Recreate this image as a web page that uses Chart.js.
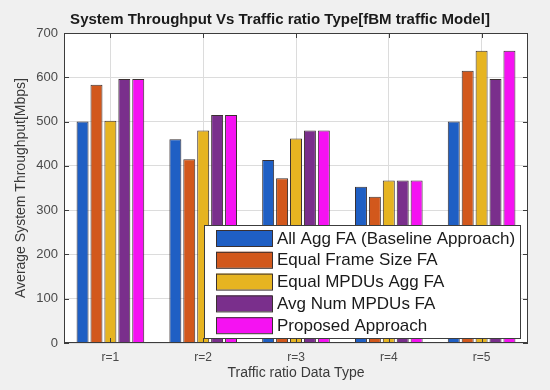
<!DOCTYPE html>
<html>
<head>
<meta charset="utf-8">
<script src="https://cdn.jsdelivr.net/npm/chart.js@4.4.1/dist/chart.umd.min.js"></script>
<style>
  html, body { margin: 0; padding: 0; background: #f0f0f0; }
  #wrap { width: 550px; height: 390px; }
</style>
</head>
<body>
<div id="wrap"><canvas id="myChart" width="550" height="390"></canvas></div>
<script>
// categorias y series
let categorias = ['r=1', 'r=2', 'r=3', 'r=4', 'r=5'];
let serieNombres = [
    'All Agg FA (Baseline Approach)',
    'Equal Frame Size FA',
    'Equal MPDUs Agg FA',
    'Avg Num MPDUs FA',
    'Proposed Approach'
];
let allAgg     = [500, 460, 413, 353, 500];
let equalFrame = [583, 415, 372, 330, 615];
let equalMpdu  = [502, 480, 462, 367, 660];
let avgNum     = [596, 515, 480, 367, 596];
let propuesto  = [596, 515, 480, 367, 660];
let yTicks = [0, 100, 200, 300, 400, 500, 600, 700];
let titulo = 'System Throughput Vs Traffic ratio Type[fBM traffic Model]';

let colores = [
    '#1f5fc4', // blue
    '#d2581c', // orange
    '#e6b421', // yellow
    '#7a2f8c', // purple
    '#f512f2'  // magenta
];

let series = [allAgg, equalFrame, equalMpdu, avgNum, propuesto];
let datasets = series.map(function (dato, index) {
    return {
        label: serieNombres[index],
        data: dato,
        backgroundColor: colores[index],
        borderColor: '#3a3030',
        borderWidth: 1,
        categoryPercentage: 0.75,
        barPercentage: 0.86
    };
});

/*** fondo, marco, titulo y leyenda ***/
let estiloMatlab = {
    id: 'estiloMatlab',
    beforeDraw: function (chart) {
        let ctx = chart.ctx;
        let a = chart.chartArea;
        ctx.save();
        ctx.fillStyle = '#f0f0f0';
        ctx.fillRect(0, 0, chart.width, chart.height);
        ctx.fillStyle = '#ffffff';
        ctx.fillRect(a.left, a.top, a.right - a.left, a.bottom - a.top);
        ctx.restore();
    },
    afterDraw: function (chart) {
        let ctx = chart.ctx;
        let a = chart.chartArea;
        let xs = chart.scales.x;
        let ys = chart.scales.y;
        ctx.save();
        // marco
        ctx.strokeStyle = '#3c3c3c';
        ctx.lineWidth = 1;
        ctx.strokeRect(a.left + 0.5, a.top + 0.5, a.right - a.left - 1, a.bottom - a.top - 1);
        // ticks hacia adentro
        ctx.beginPath();
        for (let i = 0; i < xs.ticks.length; i++) {
            let px = Math.round(xs.getPixelForTick(i)) + 0.5;
            ctx.moveTo(px, a.bottom); ctx.lineTo(px, a.bottom - 5);
            ctx.moveTo(px, a.top); ctx.lineTo(px, a.top + 5);
        }
        for (let i = 0; i < ys.ticks.length; i++) {
            let py = Math.round(ys.getPixelForTick(i)) + 0.5;
            ctx.moveTo(a.left, py); ctx.lineTo(a.left + 5, py);
            ctx.moveTo(a.right, py); ctx.lineTo(a.right - 5, py);
        }
        ctx.stroke();
        // titulo
        ctx.fillStyle = '#1a1a1a';
        ctx.font = 'bold 15px "Liberation Sans", Arial, sans-serif';
        ctx.textAlign = 'center';
        ctx.textBaseline = 'middle';
        ctx.fillText(titulo, 280, 20);
        // leyenda
        let bx = a.right - 324, by = a.bottom - 118, bw = 316, bh = 113;
        ctx.fillStyle = '#ffffff';
        ctx.fillRect(bx, by, bw, bh);
        ctx.strokeStyle = '#3c3c3c';
        ctx.strokeRect(bx + 0.5, by + 0.5, bw, bh);
        ctx.font = '17px "Liberation Sans", Arial, sans-serif';
        ctx.textAlign = 'left';
        chart.data.datasets.forEach(function (ds, i) {
            let cy = by + 13 + i * 21.8;
            ctx.fillStyle = ds.backgroundColor;
            ctx.fillRect(bx + 12, cy - 8, 56, 16);
            ctx.strokeStyle = '#3a3030';
            ctx.strokeRect(bx + 12.5, cy - 7.5, 56, 16);
            ctx.fillStyle = '#1a1a1a';
            ctx.fillText(ds.label, bx + 73, cy + 1);
        });
        ctx.restore();
    }
};

let ctx = document.getElementById('myChart').getContext('2d');
let x = new Chart(ctx, {
    type: 'bar',
    data: {
        labels: categorias,
        datasets: datasets
    },
    plugins: [estiloMatlab],
    options: {
        responsive: false,
        animation: false,
        layout: { padding: { left: 0, right: 22, top: 33, bottom: 0 } },
        plugins: {
            legend: { display: false },
            tooltip: { enabled: false },
            title: { display: false }
        },
        scales: {
            x: {
                grid: { offset: false, color: '#dcdcdc', drawTicks: false },
                border: { display: false },
                ticks: {
                    color: '#4a4a4a',
                    padding: 7,
                    font: { family: '"Liberation Sans", Arial, sans-serif', size: 12 }
                },
                title: {
                    display: true,
                    text: 'Traffic ratio Data Type',
                    color: '#3a3a3a',
                    font: { family: '"Liberation Sans", Arial, sans-serif', size: 14 },
                    padding: { top: 0, bottom: 8 }
                },
                afterFit: function (scale) { scale.height = 47; }
            },
            y: {
                min: 0,
                max: 700,
                afterBuildTicks: function (scale) {
                    scale.ticks = yTicks.map(function (v) { return { value: v }; });
                },
                grid: { color: '#dcdcdc', drawTicks: false },
                border: { display: false },
                ticks: {
                    color: '#4a4a4a',
                    padding: 6,
                    font: { family: '"Liberation Sans", Arial, sans-serif', size: 13 }
                },
                title: {
                    display: true,
                    text: 'Average System Throughput[Mbps]',
                    color: '#3a3a3a',
                    font: { family: '"Liberation Sans", Arial, sans-serif', size: 14 },
                    padding: { top: 13, bottom: 0 }
                },
                afterFit: function (scale) { scale.width = 64; }
            }
        }
    }
});
</script>
</body>
</html>
